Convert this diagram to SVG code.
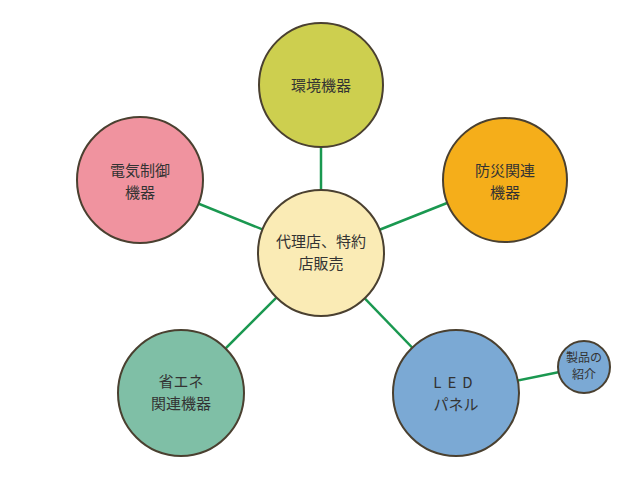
<svg xmlns="http://www.w3.org/2000/svg" width="640" height="480" viewBox="0 0 640 480">
<style>
.n{stroke:#4a4030;stroke-width:2}
.c line{stroke:#1a9850;stroke-width:2.5}
text{font-family:"Noto Sans CJK JP",sans-serif;font-size:15px;fill:#333;text-anchor:middle}
.s{font-size:12px}
</style>
<rect width="640" height="480" fill="#fff"/>
<g class="c">
<line x1="321" y1="253" x2="321" y2="85"/>
<line x1="321" y1="253" x2="140" y2="180"/>
<line x1="321" y1="253" x2="505" y2="180"/>
<line x1="321" y1="253" x2="181" y2="393"/>
<line x1="321" y1="253" x2="456" y2="393"/>
<line x1="456" y1="393" x2="584" y2="367"/>
</g>
<g id="top"><circle class="n" cx="321" cy="85" r="62" fill="#cdcf4f"/><text x="321" y="91">環境機器</text></g>
<g id="pink"><circle class="n" cx="140" cy="180" r="63" fill="#f0939f"/><text x="140" y="176">電気制御</text><text x="140" y="198">機器</text></g>
<g id="orange"><circle class="n" cx="505" cy="180" r="62" fill="#f5ae1a"/><text x="505" y="176">防災関連</text><text x="505" y="198">機器</text></g>
<g id="green"><circle class="n" cx="181" cy="393" r="63" fill="#7fbfa6"/><text x="181" y="387">省エネ</text><text x="181" y="409">関連機器</text></g>
<g id="led"><circle class="n" cx="456" cy="393" r="63" fill="#7ba9d4"/><text x="456" y="388" letter-spacing="6">LED</text><text x="456" y="410">パネル</text></g>
<g id="small"><circle class="n" cx="584" cy="367" r="26" fill="#7ba9d4"/><text class="s" x="584" y="362">製品の</text><text class="s" x="584" y="379">紹介</text></g>
<g id="center"><circle class="n" cx="321" cy="253" r="63" fill="#faebb5"/><text x="321" y="247">代理店、特約</text><text x="321" y="269">店販売</text></g>
</svg>
